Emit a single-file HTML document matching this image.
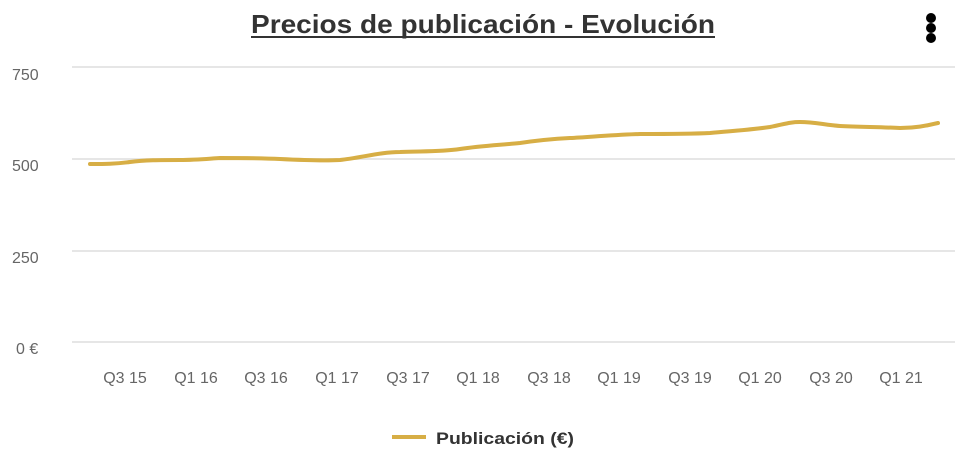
<!DOCTYPE html>
<html><head><meta charset="utf-8"><style>
body{margin:0;background:#fff;width:972px;height:457px;overflow:hidden;font-family:"Liberation Sans",sans-serif}
</style></head><body>
<svg width="972" height="457" xmlns="http://www.w3.org/2000/svg">
<text x="251" y="33" font-family="Liberation Sans" font-weight="bold" font-size="26" fill="#333" textLength="464" lengthAdjust="spacingAndGlyphs">Precios de publicación - Evolución</text>
<line x1="251" y1="37" x2="715" y2="37" stroke="#333" stroke-width="2"/>
<circle cx="931" cy="18" r="5" fill="#000"/><circle cx="931" cy="28" r="5" fill="#000"/><circle cx="931" cy="38" r="5" fill="#000"/>
<g stroke="#e6e6e6" stroke-width="2">
<line x1="72" y1="67" x2="955" y2="67"/><line x1="72" y1="159" x2="955" y2="159"/><line x1="72" y1="251" x2="955" y2="251"/><line x1="72" y1="342" x2="955" y2="342"/>
</g>
<g font-size="16" fill="#666" font-family="Liberation Sans">
<text x="12" y="80">750</text><text x="12" y="171">500</text><text x="12" y="263">250</text><text x="16" y="354">0 €</text>
</g>
<g font-size="16" fill="#666" text-anchor="middle">
<text x="125" y="383">Q3 15</text><text x="196" y="383">Q1 16</text><text x="266" y="383">Q3 16</text><text x="337" y="383">Q1 17</text><text x="408" y="383">Q3 17</text><text x="478" y="383">Q1 18</text><text x="549" y="383">Q3 18</text><text x="619" y="383">Q1 19</text><text x="690" y="383">Q3 19</text><text x="760" y="383">Q1 20</text><text x="831" y="383">Q3 20</text><text x="901" y="383">Q1 21</text>
</g>
<path d="M90,164 C105,164 115,164 130,162 C145,160 160,160 180,160 C195,160 205,159 220,158 C240,158 260,158 280,159 C300,160 320,161 340,160 C360,158 380,152 400,152 C420,151 440,152 460,149 C480,146 500,145 520,143 C540,140 550,139 570,138 C590,137 610,135 640,134 C670,134 690,134 710,133 C730,131 750,130 770,127 C785,124 790,122 800,122 C815,122 825,125 840,126 C860,127 880,127 900,128 C915,128 925,126 938,123" fill="none" stroke="#d7ae45" stroke-width="4" stroke-linecap="round"/>
<line x1="392" y1="437" x2="426" y2="437" stroke="#d7ae45" stroke-width="4"/>
<text x="436" y="444" font-size="17" font-weight="bold" fill="#333" textLength="138" lengthAdjust="spacingAndGlyphs">Publicación (€)</text>
</svg>
</body></html>
